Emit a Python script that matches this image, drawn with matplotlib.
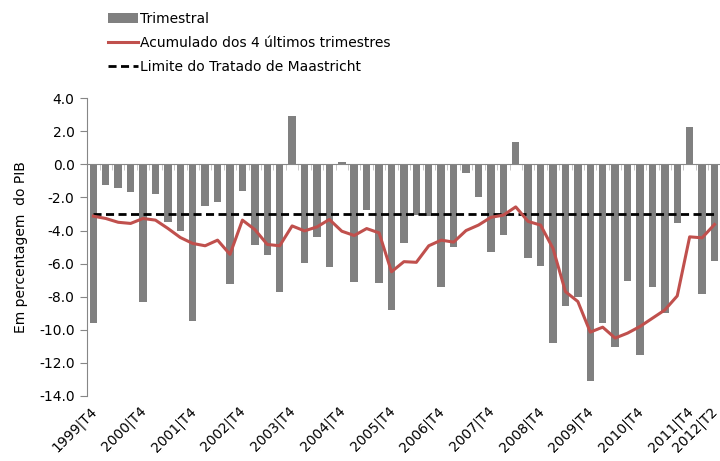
import numpy as np
import matplotlib
matplotlib.use('Agg')
import matplotlib.pyplot as plt
import matplotlib.transforms as mtransforms
from matplotlib.ticker import FixedLocator, FormatStrFormatter

plt.rcParams['font.family'] = ['DejaVu Sans']
plt.rcParams['font.size'] = 10

# Quarters from 1999 T4 to 2012 T2
quarters = ['1999|T4'] + [f'{y}|T{q}' for y in range(2000, 2012) for q in range(1, 5)] + ['2012|T1', '2012|T2']

# Quarterly balance (% of GDP)
trimestral = [-9.6,
              -1.27, -1.4, -1.7, -8.3,
              -1.77, -3.5, -4.0, -9.44,
              -2.5, -2.27, -7.25, -1.6,
              -4.9, -5.5, -7.7, 2.93,
              -5.98, -4.38, -6.18, 0.16,
              -7.13, -2.73, -7.2, -8.8,
              -4.74, -3.03, -3.11, -7.41,
              -4.98, -0.52, -1.97, -5.32,
              -4.24, 1.35, -5.68, -6.16,
              -10.8, -8.55, -8.01, -13.1,
              -9.6, -11.02, -7.07, -11.53,
              -7.41, -8.96, -3.55, 2.25,
              -7.81, -5.82]

# Rolling sum of the last 4 quarters
acumulado = [-3.13,
             -3.27, -3.5, -3.57, -3.27,
             -3.37, -3.87, -4.42, -4.78,
             -4.92, -4.58, -5.44, -3.37,
             -3.94, -4.84, -4.92, -3.72,
             -4.02, -3.78, -3.33, -4.04,
             -4.3, -3.88, -4.14, -6.49,
             -5.88, -5.92, -4.92, -4.58,
             -4.7, -4.0, -3.67, -3.2,
             -3.07, -2.57, -3.45, -3.67,
             -5.08, -7.69, -8.29, -10.14,
             -9.84, -10.5, -10.2, -9.8,
             -9.3, -8.8, -7.95, -4.38,
             -4.44, -3.63]

limite = [-3.0] * len(quarters)

label_idx = list(range(0, 49, 4)) + [50]

x = np.arange(len(quarters))

fig = plt.figure(figsize=(7.2, 4.61), dpi=100)
ax = fig.add_axes([0.121, 0.141, 0.880, 0.646])

bars = ax.bar(x, trimestral, width=0.6, color='#808080', label='Trimestral', zorder=2)
line, = ax.plot(x, acumulado, color='#C0504D', linewidth=2.2, label='Acumulado dos 4 últimos trimestres', zorder=4)
dash, = ax.plot(x, limite, color='black', linewidth=2, linestyle=(0, (2.9, 1.6)),
                label='Limite do Tratado de Maastricht', zorder=3)

ax.set_xlim(-0.5, len(quarters) - 0.5)
ax.set_ylim(-14, 4)
ax.set_yticks(np.arange(-14, 4.1, 2))
ax.yaxis.set_major_formatter(FormatStrFormatter('%.1f'))
ax.set_ylabel('Em percentagem  do PIB', fontsize=10, labelpad=8)

for s in ['top', 'right']:
    ax.spines[s].set_visible(False)
ax.spines['left'].set_color('#868686')
ax.spines['bottom'].set_color('#868686')
ax.spines['bottom'].set_position(('data', 0))
ax.tick_params(axis='y', length=5, color='#868686', labelsize=10, pad=4)

# x tick labels at the bottom of the plot, small category ticks on the zero line
ax.set_xticks(label_idx)
ax.xaxis.set_minor_locator(FixedLocator(np.arange(-0.5, len(quarters), 1)))
ax_h_px = 0.646 * 461
pad_pt = (14 / 18 * ax_h_px + 8) * 72 / 100
ax.set_xticklabels([quarters[i] for i in label_idx], rotation=45, ha='right',
                   rotation_mode='anchor', fontsize=10)
ax.tick_params(axis='x', which='major', length=0, pad=pad_pt)
ax.tick_params(axis='x', which='minor', length=4, color='#BFBFBF')
shift = mtransforms.ScaledTranslation(-4 / 100, 0, fig.dpi_scale_trans)
for lab in ax.get_xticklabels():
    lab.set_transform(lab.get_transform() + shift)

fig.legend(handles=[bars, line, dash], loc='upper left', bbox_to_anchor=(108 / 720, 1 - 12 / 461),
           frameon=False, fontsize=10, handlelength=2.15, handletextpad=0.15,
           labelspacing=0.72, borderaxespad=0, borderpad=0, handleheight=0.7)

fig.savefig('out.png', dpi=100)
